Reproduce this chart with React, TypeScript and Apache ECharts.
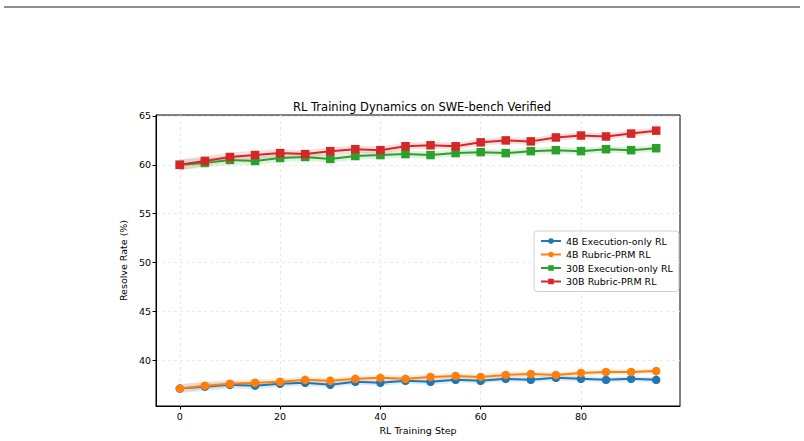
import React, { useEffect, useRef } from 'react';
import * as echarts from 'echarts';

const steps = [0, 5, 10, 15, 20, 25, 30, 35, 40, 45, 50, 55, 60, 65, 70, 75, 80, 85, 90, 95];

const exec4B = [37.1, 37.3, 37.5, 37.4, 37.6, 37.7, 37.5, 37.8, 37.7, 37.9, 37.8, 38.0, 37.9, 38.1, 38.0, 38.2, 38.1, 38.0, 38.1, 38.0];
const rubric4B = [37.1, 37.4, 37.6, 37.7, 37.8, 38.0, 37.9, 38.1, 38.2, 38.1, 38.3, 38.4, 38.3, 38.5, 38.6, 38.5, 38.7, 38.8, 38.8, 38.9];
const exec30B = [60.0, 60.2, 60.5, 60.4, 60.7, 60.8, 60.6, 60.9, 61.0, 61.1, 61.0, 61.2, 61.3, 61.2, 61.4, 61.5, 61.4, 61.6, 61.5, 61.7];
const rubric30B = [60.0, 60.4, 60.8, 61.0, 61.2, 61.1, 61.4, 61.6, 61.5, 61.9, 62.0, 61.9, 62.3, 62.5, 62.4, 62.8, 63.0, 62.9, 63.2, 63.5];

const spread4BExec = [0.45, 0.42, 0.38, 0.36, 0.34, 0.33, 0.32, 0.31, 0.3, 0.3, 0.3, 0.29, 0.29, 0.28, 0.28, 0.28, 0.28, 0.28, 0.27, 0.27];
const spread4BRubric = [0.45, 0.42, 0.38, 0.36, 0.34, 0.33, 0.32, 0.31, 0.3, 0.3, 0.3, 0.29, 0.29, 0.28, 0.28, 0.28, 0.28, 0.28, 0.27, 0.27];
const spread30BExec = [0.55, 0.5, 0.46, 0.44, 0.42, 0.4, 0.39, 0.38, 0.37, 0.36, 0.36, 0.35, 0.35, 0.34, 0.34, 0.34, 0.33, 0.33, 0.33, 0.33];
const spread30BRubric = [0.55, 0.5, 0.46, 0.44, 0.42, 0.4, 0.39, 0.38, 0.37, 0.36, 0.36, 0.35, 0.35, 0.34, 0.34, 0.34, 0.33, 0.33, 0.33, 0.33];

const xTicks = [0, 20, 40, 60, 80];
const yTicks = [40, 45, 50, 55, 60, 65];

const seriesDefs = [
  { name: '4B Execution-only RL', values: exec4B, spread: spread4BExec, color: '#1f77b4', symbol: 'circle' },
  { name: '4B Rubric-PRM RL', values: rubric4B, spread: spread4BRubric, color: '#ff7f0e', symbol: 'circle' },
  { name: '30B Execution-only RL', values: exec30B, spread: spread30BExec, color: '#2ca02c', symbol: 'rect' },
  { name: '30B Rubric-PRM RL', values: rubric30B, spread: spread30BRubric, color: '#d62728', symbol: 'rect' },
];

const FONT = 'DejaVu Sans';

export default function App() {
  const ref = useRef<HTMLDivElement>(null);
  useEffect(() => {
    if (!ref.current) return;
    const chart = echarts.init(ref.current, undefined, { renderer: 'svg' });
    const series: any[] = [];
    seriesDefs.forEach((s) => {
      const bandData = steps.map((x, k) => [x, s.values[k] - s.spread[k], s.values[k] + s.spread[k]]);
      series.push({
        type: 'custom',
        name: s.name + ' band',
        silent: true,
        z: 1,
        data: bandData,
        encode: { x: 0, y: [1, 2] },
        renderItem: (params: any, api: any) => {
          if (params.dataIndex !== 0) return null;
          const upper = bandData.map((d) => api.coord([d[0], d[2]]));
          const lower = bandData.map((d) => api.coord([d[0], d[1]])).reverse();
          return {
            type: 'polygon',
            shape: { points: upper.concat(lower) },
            style: { fill: s.color, opacity: 0.15 },
          };
        },
      });
    });
    seriesDefs.forEach((s, i) => {
      series.push({
        type: 'line',
        name: s.name,
        data: steps.map((x, k) => [x, s.values[k]]),
        symbol: s.symbol,
        symbolSize: 8.5,
        itemStyle: { color: s.color },
        lineStyle: { color: s.color, width: 2 },
        z: 3 + i,
      });
    });

    chart.setOption({
      animation: false,
      backgroundColor: '#ffffff',
      textStyle: { fontFamily: FONT },
      title: {
        text: 'RL Training Dynamics on SWE-bench Verified',
        left: 417,
        textAlign: 'center',
        top: 96,
        textStyle: { fontFamily: FONT, fontSize: 11.5, fontWeight: 'normal', color: '#000' },
      },
      grid: {
        left: 156,
        right: 124,
        top: 115,
        bottom: 35,
        show: true,
        borderColor: '#000',
        borderWidth: 1,
        backgroundColor: 'transparent',
      },
      legend: {
        orient: 'vertical',
        left: 534,
        top: 231,
        data: seriesDefs.map((s) => s.name),
        itemWidth: 20,
        itemHeight: 7,
        itemGap: 3.5,
        padding: [5, 6, 5, 6],
        borderColor: '#d0d0d0',
        borderWidth: 1,
        borderRadius: 3,
        backgroundColor: '#fff',
        textStyle: { fontFamily: FONT, fontSize: 9.5, color: '#000' },
      },
      xAxis: {
        type: 'value',
        min: -4.75,
        max: 99.75,
        name: 'RL Training Step',
        nameLocation: 'middle',
        nameGap: 19,
        nameTextStyle: { fontFamily: FONT, fontSize: 9.5, color: '#000' },
        axisLine: { show: true, onZero: false, lineStyle: { color: '#000', width: 1 } },
        axisTick: { show: true, length: 3.5, lineStyle: { color: '#000' }, customValues: xTicks },
        axisLabel: { fontFamily: FONT, fontSize: 9.5, color: '#000', margin: 5, customValues: xTicks },
        splitLine: { show: true, lineStyle: { color: '#e3e3e3', type: [3, 3], width: 0.8 } },
      },
      yAxis: {
        type: 'value',
        min: 35.32,
        max: 65.1,
        name: 'Resolve Rate (%)',
        nameLocation: 'middle',
        nameGap: 20,
        nameTextStyle: { fontFamily: FONT, fontSize: 9.5, color: '#000' },
        axisLine: { show: true, onZero: false, lineStyle: { color: '#000', width: 1 } },
        axisTick: { show: true, length: 3.5, lineStyle: { color: '#000' }, customValues: yTicks },
        axisLabel: { fontFamily: FONT, fontSize: 9.5, color: '#000', margin: 5, customValues: yTicks },
        splitLine: { show: true, lineStyle: { color: '#e3e3e3', type: [3, 3], width: 0.8 } },
      },
      graphic: [
        {
          type: 'line',
          shape: { x1: 4, y1: 7, x2: 800, y2: 7 },
          style: { stroke: '#222', lineWidth: 1.2 },
        },
      ],
      series,
    });
    return () => chart.dispose();
  }, []);
  return <div ref={ref} style={{ position: 'fixed', left: 0, top: 0, width: 804, height: 441 }} />;
}
